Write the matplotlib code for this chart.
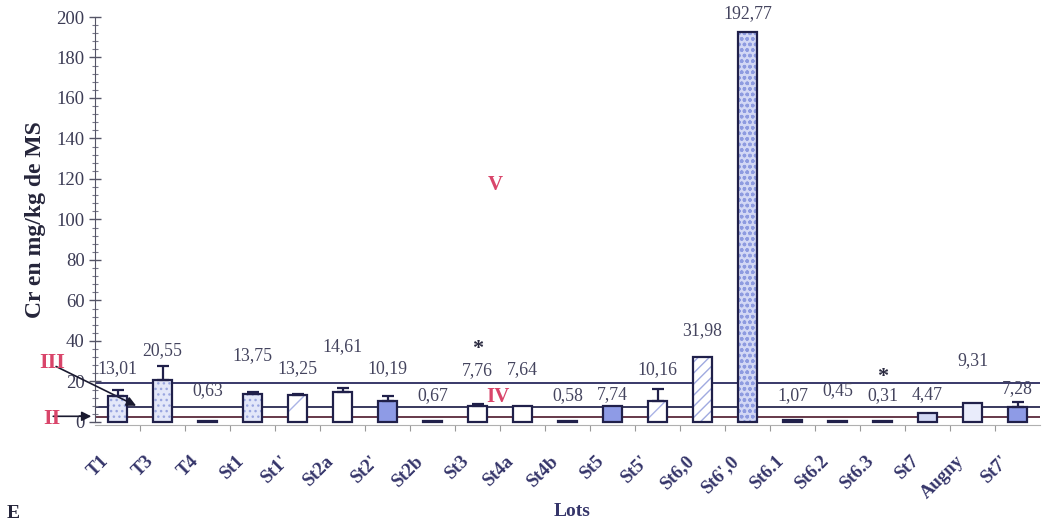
import matplotlib
matplotlib.use("Agg")
import matplotlib.pyplot as plt
import numpy as np
from matplotlib.ticker import MultipleLocator, FixedLocator
import matplotlib.transforms as mtransforms

# ---------------- data ----------------
categories = ["T1", "T3", "T4", "St1", "St1'", "St2a", "St2'", "St2b", "St3", "St4a",
              "St4b", "St5", "St5'", "St6,0", "St6',0", "St6.1", "St6.2", "St6.3",
              "St7", "Augny", "St7'"]
values = [13.01, 20.55, 0.63, 13.75, 13.25, 14.61, 10.19, 0.67, 7.76, 7.64,
          0.58, 7.74, 10.16, 31.98, 192.77, 1.07, 0.45, 0.31, 4.47, 9.31, 7.28]
errors = [3.0, 7.0, 0, 1.2, 0.6, 2.2, 2.8, 0, 1.0, 0,
          0, 0, 6.0, 0, 0, 0, 0, 0, 0, 0, 2.8]
# heights (data units) of the value labels above the baseline
label_y = [26.5, 35.4, 15.5, 33.0, 26.5, 37.0, 26.5, 13.0, 25.5, 25.8,
           13.0, 13.3, 25.8, 45.1, 201.5, 12.8, 15.3, 12.8, 13.7, 30.1, 16.5]
# fill style for each bar
styles = ["dots", "dots", "black", "dots", "diag1", "white", "blue", "black", "white", "white",
          "black", "blue", "diag1", "diag", "dense", "black", "black", "black",
          "light", "pale", "blue"]
class_lines = [19.2, 7.2, 2.6]
star_positions = [(8, 31.0), (17, 17.3)]

# ---------------- styling ----------------
serif = ["Liberation Serif", "DejaVu Serif"]
plt.rcParams["font.family"] = serif
navy = "#20204a"
tick_col = "#3c3c55"
red = "#d9456a"

style_map = {
    "dots":  dict(face="#e3e7f9", hatch="...", hcol="#9aa6e0"),
    "dense": dict(face="#d3d8f5", hatch="ooo", hcol="#8e9be0"),
    "black": dict(face="#111122", hatch=None, hcol=None),
    "white": dict(face="white", hatch=None, hcol=None),
    "blue":  dict(face="#8e9be6", hatch=None, hcol=None),
    "diag1": dict(face="white", hatch="/", hcol="#aab3e6"),
    "diag":  dict(face="white", hatch="///", hcol="#a0aae0"),
    "light": dict(face="#d3d9f5", hatch=None, hcol=None),
    "pale":  dict(face="#e9ecfb", hatch=None, hcol=None),
}

W, H = 1043, 526
fig = plt.figure(figsize=(W / 100, H / 100), dpi=100)
ax = fig.add_axes([95 / W, 1 - 425 / H, (1040 - 95) / W, (425 - 17) / H])

x = np.arange(len(categories))
bw = 0.42

for i, (v, st) in enumerate(zip(values, styles)):
    s = style_map[st]
    if s["hatch"]:
        ax.bar(i, v, bw, color=s["face"], hatch=s["hatch"], edgecolor=s["hcol"],
               linewidth=0, zorder=2)
    else:
        ax.bar(i, v, bw, color=s["face"], linewidth=0, zorder=2)
    ax.bar(i, v, bw, fill=False, edgecolor=navy, linewidth=1.6, zorder=3)

# error bars (upper only)
for i, (v, e) in enumerate(zip(values, errors)):
    if e > 0:
        ax.errorbar(i, v, yerr=[[0], [e]], fmt="none", ecolor=navy, elinewidth=1.6,
                    capsize=4, capthick=1.6, zorder=4)

# class boundary lines
line_cols = ["#2a2a5e", "#2a2a50", "#5a2a3c"]
for yv, c in zip(class_lines, line_cols):
    ax.axhline(yv, color=c, linewidth=1.3, zorder=1)

# value labels
for i, (v, ly) in enumerate(zip(values, label_y)):
    ax.text(i, ly, f"{v:.2f}".replace(".", ","), ha="center", va="center",
            fontsize=12.8, color="#44445e", clip_on=False, zorder=5)

for (xi, yi) in star_positions:
    ax.text(xi, yi, "*", ha="center", va="bottom", fontsize=16, fontweight="bold",
            color="#2a2a40", zorder=5)

# class labels
ax.text(8.45, 12.3, "IV", ha="center", va="center", fontsize=15, fontweight="bold", color=red)
ax.text(8.4, 117, "V", ha="center", va="center", fontsize=15, fontweight="bold", color=red)
fig.text(52 / W, 1 - 363 / H, "III", ha="center", va="center", fontsize=16,
         fontweight="bold", color=red)
fig.text(52 / W, 1 - 419 / H, "II", ha="center", va="center", fontsize=16,
         fontweight="bold", color=red)

# arrows
ax.annotate("", xy=(0.47, 7.4), xytext=(-1.42, 28.0),
            arrowprops=dict(arrowstyle="-|>", color="#1a1a30", lw=1.2,
                            mutation_scale=14), annotation_clip=False)
ax.annotate("", xy=(-0.52, 2.8), xytext=(-1.49, 2.8),
            arrowprops=dict(arrowstyle="-|>", color="#1a1a30", lw=1.2,
                            mutation_scale=14), annotation_clip=False)

# axes
ax.set_xlim(-0.5, len(categories) - 0.5)
ax.set_ylim(-1.5, 200)
ax.yaxis.set_major_locator(FixedLocator(np.arange(0, 201, 20)))
ax.yaxis.set_minor_locator(MultipleLocator(4))
ax.tick_params(axis="y", which="major", direction="inout", length=9, width=1,
               color="#555566", labelsize=13.5, labelcolor=tick_col, pad=3)
ax.tick_params(axis="y", which="minor", direction="inout", length=4, width=0.8,
               color="#777788")

ax.set_xticks(x)
ax.set_xticklabels(categories)
ax.xaxis.set_minor_locator(FixedLocator(np.arange(0.5, len(categories) - 0.5, 1)))
ax.tick_params(axis="x", which="major", length=0, pad=20)
ax.tick_params(axis="x", which="minor", direction="out", length=4, width=0.8,
               color="#999999")
offset = mtransforms.ScaledTranslation(-4 / 72, 0, fig.dpi_scale_trans)
for lab in ax.get_xticklabels():
    lab.set_rotation(45)
    lab.set_ha("right")
    lab.set_va("top")
    lab.set_fontsize(13.5)
    lab.set_fontweight("bold")
    lab.set_color("#35356a")
    lab.set_transform(lab.get_transform() + offset)

for side in ["top", "right"]:
    ax.spines[side].set_visible(False)
ax.spines["left"].set_color("#555566")
ax.spines["left"].set_bounds(0, 200)
ax.spines["bottom"].set_color("#b0b0b0")
ax.spines["bottom"].set_linewidth(0.8)

fig.text(36 / W, 1 - 220 / H, "Cr en mg/kg de MS", rotation=90, ha="center",
         va="center", fontsize=17, fontweight="bold", color="#25253a")
fig.text(572 / W, 1 - 512 / H, "Lots", ha="center", va="center", fontsize=14,
         fontweight="bold", color="#35356a")
fig.text(13 / W, 1 - 514 / H, "E", ha="center", va="center", fontsize=14,
         fontweight="bold", color="#25253a")

fig.savefig("out.png", dpi=100)
